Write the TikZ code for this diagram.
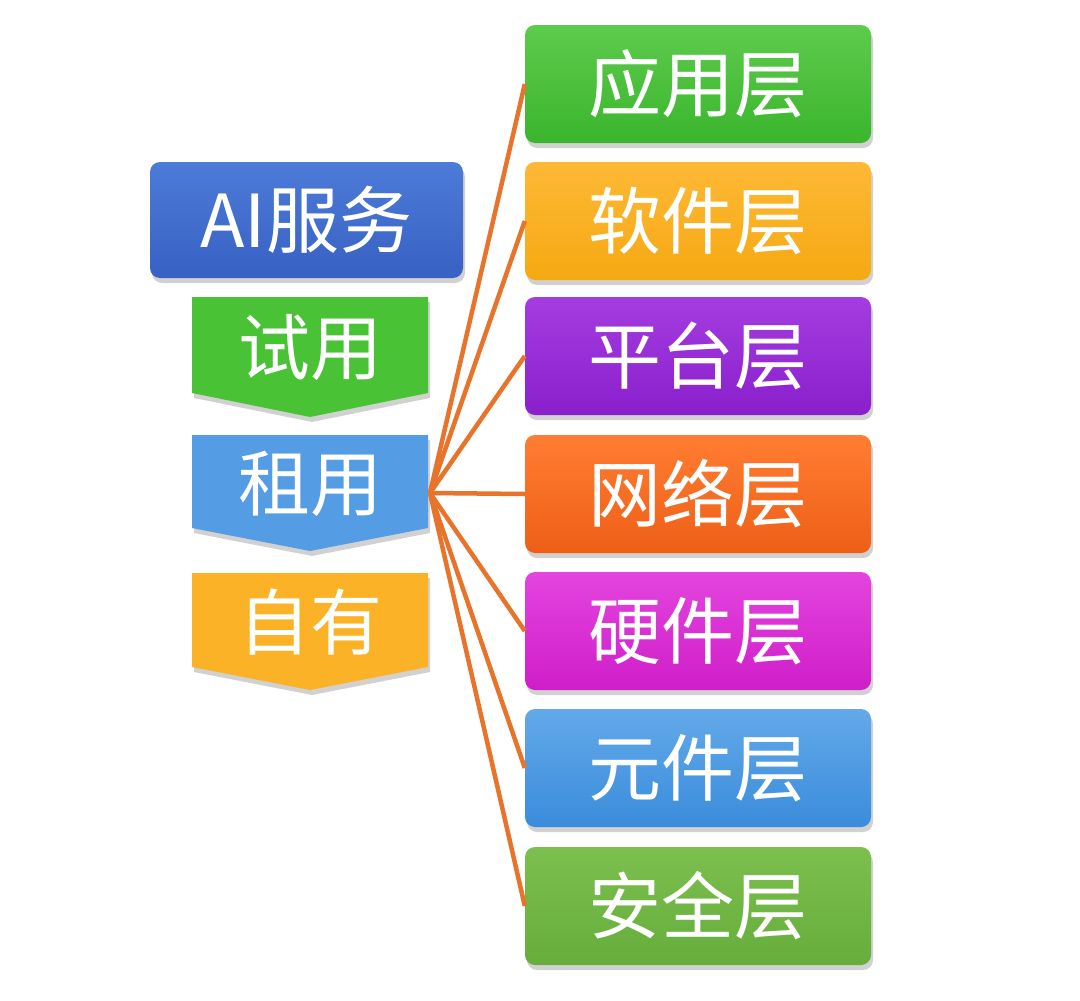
\documentclass[tikz,border=0pt]{standalone}
\usepackage{fontspec}
\newfontfamily\cjk{Noto Sans CJK SC}
\usetikzlibrary{shadows}
\definecolor{linkc}{HTML}{E8732A}
\tikzset{
  lbl/.style={text=white, font=\cjk\fontsize{72}{72}\selectfont, inner sep=0pt},
  layerbox/.style={rounded corners=10pt, minimum width=346pt, minimum height=118pt,
     text=white, font=\cjk\fontsize{73}{73}\selectfont, inner sep=0pt,
     drop shadow={shadow xshift=2pt, shadow yshift=-5pt, opacity=0.18, fill=black}},
  chev/.style={drop shadow={shadow xshift=2pt, shadow yshift=-5pt, opacity=0.18, fill=black}},
  link/.style={draw=linkc, line width=4.5pt},
}
\begin{document}
\begin{tikzpicture}[x=1pt,y=-1pt]
\useasboundingbox[fill=white] (0,0) rectangle (1080,1001);
% right layer boxes
\node[layerbox, top color={rgb,255:red,93;green,203;blue,76}, bottom color={rgb,255:red,59;green,181;blue,45}] (r1) at (698,84) {应用层};
\node[layerbox, top color={rgb,255:red,254;green,184;blue,53}, bottom color={rgb,255:red,245;green,169;blue,18}] (r2) at (698,221) {软件层};
\node[layerbox, top color={rgb,255:red,164;green,61;blue,224}, bottom color={rgb,255:red,138;green,31;blue,204}] (r3) at (698,356) {平台层};
\node[layerbox, top color={rgb,255:red,255;green,125;blue,50}, bottom color={rgb,255:red,238;green,95;blue,22}] (r4) at (698,494) {网络层};
\node[layerbox, top color={rgb,255:red,228;green,68;blue,223}, bottom color={rgb,255:red,207;green,30;blue,201}] (r5) at (698,631) {硬件层};
\node[layerbox, top color={rgb,255:red,99;green,169;blue,233}, bottom color={rgb,255:red,58;green,140;blue,219}] (r6) at (698,768) {元件层};
\node[layerbox, top color={rgb,255:red,124;green,192;blue,79}, bottom color={rgb,255:red,102;green,173;blue,60}] (r7) at (698,906) {安全层};
% left: AI service box
\node[layerbox, minimum width=313pt, minimum height=116pt, top color={rgb,255:red,77;green,123;blue,216}, bottom color={rgb,255:red,55;green,97;blue,195}] (ai) at (306.5,220) {AI服务};
% chevrons
\path[chev, fill={rgb,255:red,73;green,194;blue,53}] (192,297) -- (428,297) -- (428,393) -- (310,417) -- (192,393) -- cycle;
\node[lbl] (sy) at (310,347) {试用};
\path[chev, fill={rgb,255:red,84;green,156;blue,228}] (192,435) -- (428,435) -- (428,528) -- (310,551) -- (192,528) -- cycle;
\node[lbl] (zy) at (310,484) {租用};
\path[chev, fill={rgb,255:red,252;green,178;blue,38}] (192,573) -- (428,573) -- (428,667) -- (310,690) -- (192,667) -- cycle;
\node[lbl] (zyo) at (310,622) {自有};
% hub and links
\coordinate (hub) at (430,493);
\foreach \r in {r1,r2,r3,r4,r5,r6,r7} {
  \draw[link] (hub) -- (\r.west);
}
\end{tikzpicture}
\end{document}
